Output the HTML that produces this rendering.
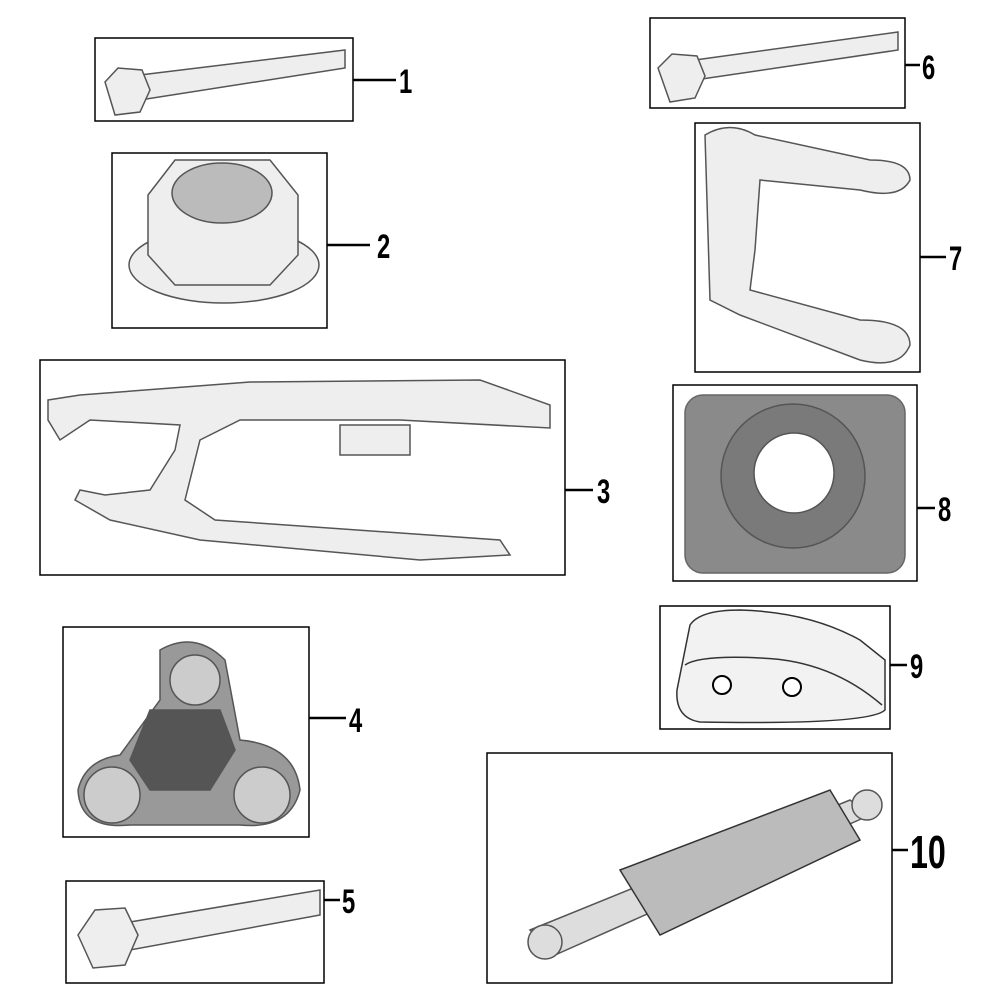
<!DOCTYPE html>
<html><head><meta charset="utf-8"><style>
html,body{margin:0;padding:0;background:#fff;}
svg{display:block}
text{font-family:"Liberation Sans",sans-serif;font-weight:bold;fill:#000}
</style></head><body>
<svg width="1000" height="1000" viewBox="0 0 1000 1000" xmlns="http://www.w3.org/2000/svg">
<g fill="none" stroke="#000" stroke-width="1.5">
<rect x="95" y="38" width="258" height="83"/>
<rect x="112" y="153" width="215" height="175"/>
<rect x="40" y="360" width="525" height="215"/>
<rect x="63" y="627" width="246" height="210"/>
<rect x="66" y="881" width="258" height="102"/>
<rect x="650" y="18" width="255" height="90"/>
<rect x="695" y="123" width="225" height="249"/>
<rect x="673" y="385" width="244" height="196"/>
<rect x="660" y="606" width="230" height="123"/>
<rect x="487" y="753" width="405" height="230"/>
</g>
<g stroke="#000" stroke-width="2.5">
<line x1="353" y1="80" x2="396" y2="80"/>
<line x1="327" y1="245" x2="370" y2="245"/>
<line x1="565" y1="490" x2="593" y2="490"/>
<line x1="309" y1="718" x2="346" y2="718"/>
<line x1="324" y1="900" x2="340" y2="900"/>
<line x1="905" y1="65" x2="920" y2="65"/>
<line x1="920" y1="257" x2="946" y2="257"/>
<line x1="917" y1="508" x2="935" y2="508"/>
<line x1="890" y1="665" x2="907" y2="665"/>
<line x1="892" y1="850" x2="908" y2="850"/>
</g>
<g font-size="34">
<text transform="translate(399,93) scale(0.7,1)">1</text>
<text transform="translate(377,258) scale(0.7,1)">2</text>
<text transform="translate(597,503) scale(0.7,1)">3</text>
<text transform="translate(349,732) scale(0.7,1)">4</text>
<text transform="translate(342,913) scale(0.7,1)">5</text>
<text transform="translate(922,79) scale(0.7,1)">6</text>
<text transform="translate(949,270) scale(0.7,1)">7</text>
<text transform="translate(938,521) scale(0.7,1)">8</text>
<text transform="translate(910,678) scale(0.7,1)">9</text>
<text transform="translate(910,868) scale(0.7,1)" font-size="46">10</text>
</g>
<g fill="#eee" stroke="#555" stroke-width="1.5">
<path d="M140 75 L345 50 L345 68 L140 100 Z"/>
<polygon points="105,82 118,68 142,70 150,90 140,112 115,115"/>
<path d="M695 60 L898 32 L898 50 L695 80 Z"/>
<polygon points="658,68 672,54 697,56 705,76 695,98 670,102"/>
<path d="M130 922 L320 890 L320 915 L130 950 Z"/>
<polygon points="78,935 95,910 125,908 138,935 125,965 93,968"/>
<ellipse cx="224" cy="265" rx="95" ry="38"/>
<polygon points="148,195 175,160 270,160 298,195 298,255 270,285 175,285 148,255"/>
<ellipse cx="222" cy="193" rx="50" ry="30" fill="#bbb"/>
<path d="M48 400 L80 395 L250 382 L480 380 L550 405 L550 428 L400 420 L240 420 L200 440 L185 500 L215 520 L500 540 L510 555 L420 560 L200 540 L110 520 L75 500 L80 490 L105 495 L150 490 L175 450 L180 425 L90 420 L60 440 L48 420 Z"/>
<rect x="340" y="425" width="70" height="30"/>
<path d="M160 650 Q195 630 225 660 L240 740 Q295 745 300 790 Q290 830 240 825 L130 825 Q80 830 78 790 Q85 760 120 755 L160 700 Z" fill="#999"/>
<circle cx="195" cy="680" r="25" fill="#ccc"/>
<circle cx="112" cy="795" r="28" fill="#ccc"/>
<circle cx="262" cy="795" r="28" fill="#ccc"/>
<path d="M150 710 L220 710 L235 750 L210 790 L150 790 L130 760 Z" fill="#555"/>
<path d="M705 135 Q730 120 755 135 L870 160 Q910 160 910 180 Q900 200 860 190 L760 180 L755 250 L750 290 L860 320 Q910 320 910 345 Q900 370 860 360 L740 315 L710 300 Z"/>
<rect x="685" y="395" width="220" height="178" rx="18" fill="#8a8a8a" stroke="#666"/>
<circle cx="793" cy="476" r="72" fill="#7a7a7a"/>
<circle cx="794" cy="473" r="40" fill="#fff"/>
<path d="M690 625 Q700 610 740 610 Q810 612 860 640 L885 660 L885 710 Q870 725 700 722 Q675 718 677 690 Z" fill="#f2f2f2" stroke="#333"/>
<path d="M685 665 Q700 655 760 658 Q830 660 882 705" fill="none" stroke="#333"/>
<circle cx="722" cy="685" r="9" fill="#fff" stroke="#000" stroke-width="2"/>
<circle cx="792" cy="687" r="9" fill="#fff" stroke="#000" stroke-width="2"/>
<path d="M530 930 L850 800 L870 815 L555 955 Z" fill="#ddd"/>
<path d="M620 870 L830 790 L860 840 L660 935 Z" fill="#bbb" stroke="#333"/>
<circle cx="545" cy="942" r="17" fill="#ddd"/>
<circle cx="867" cy="805" r="15" fill="#ddd"/>
</g>
</svg>
</body></html>
